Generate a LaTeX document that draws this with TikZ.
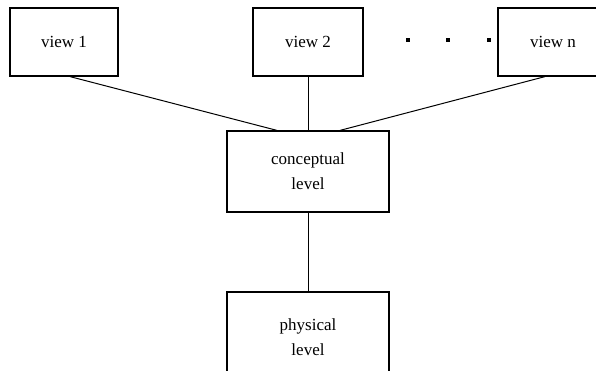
\documentclass[tikz,border=0pt]{standalone}
\usepackage{fontspec}
\setmainfont{Liberation Serif}
\begin{document}
\begin{tikzpicture}[x=1pt,y=-1pt,
  box/.style={draw=black,line width=1.2pt,fill=white,inner sep=0pt,align=center,
    font=\fontsize{17}{25}\selectfont},
  conn/.style={draw=black,line width=1pt}]
\clip (0,0) rectangle (596,370);
\fill[white] (0,0) rectangle (596,370);
\node[box,minimum width=108pt,minimum height=68pt] (v1) at (64,42) {view 1};
\node[box,minimum width=110pt,minimum height=68pt] (v2) at (308,42) {view 2};
\node[box,minimum width=110pt,minimum height=68pt] (vn) at (553,42) {view n};
\node[box,minimum width=162pt,minimum height=81pt] (con) at (308,171.5) {conceptual\\level};
\node[box,minimum width=162pt,minimum height=90pt] (phy) at (308,337) {physical\\level};
\foreach \x in {408,448,489} \fill (\x-1.7,40-1.7) rectangle (\x+1.7,40+1.7);
\draw[conn] ([xshift=6pt]v1.south) -- ([xshift=-31pt]con.north);
\draw[conn] (v2.south) -- (con.north);
\draw[conn] ([xshift=-8pt]vn.south) -- ([xshift=32pt]con.north);
\draw[conn] (con.south) -- (phy.north);
\end{tikzpicture}
\end{document}
